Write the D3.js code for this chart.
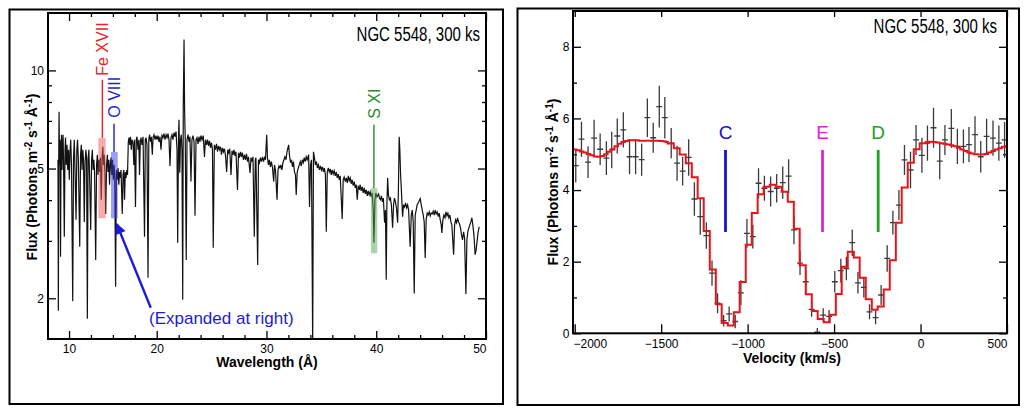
<!DOCTYPE html>
<html><head><meta charset="utf-8">
<script src="https://cdn.jsdelivr.net/npm/d3@7"></script>
<style>body{margin:0;background:#fff}</style>
</head><body><svg id="c" width="1029" height="409"></svg>
<script>
// ================= DATA =================
// Left panel: spectrum [wavelength (Å, axis units), flux]
const spectrum = [
[8.74,5.32],[8.78,1.83],[8.83,5.71],[8.86,7.47],[8.92,5.13],[8.97,6.13],[9.03,2.68],[9.09,5.71],[9.14,6.35],[9.20,4.95],
[9.26,5.91],[9.32,6.35],[9.37,5.32],[9.46,3.09],[9.54,5.71],[9.60,6.22],[9.68,5.13],[9.77,5.91],[9.85,4.95],[9.94,5.71],
[10.03,4.62],[10.11,5.63],[10.19,6.13],[10.28,5.13],[10.42,1.96],[10.51,5.40],[10.60,6.13],[10.68,4.95],[10.80,3.48],[10.89,5.71],
[10.97,6.13],[11.06,5.32],[11.22,2.88],[11.31,5.51],[11.40,5.91],[11.48,4.95],[11.57,5.71],[11.65,5.32],[11.74,3.43],[11.82,5.13],
[11.92,5.71],[12.00,5.40],[12.09,1.73],[12.17,5.32],[12.26,5.71],[12.34,4.78],[12.47,3.24],[12.57,5.32],[12.66,5.71],[12.74,4.95],
[12.83,5.32],[12.91,4.88],[13.04,2.62],[13.14,5.13],[13.23,5.51],[13.31,4.78],[13.40,5.32],[13.48,4.88],[13.57,5.40],[13.68,4.01],
[13.76,5.32],[13.85,5.83],[13.93,5.13],[14.02,5.51],[14.10,4.78],[14.18,3.63],[14.28,5.13],[14.37,5.51],[14.45,4.88],[14.54,5.32],
[14.62,4.46],[14.71,5.13],[14.79,5.40],[14.88,4.78],[14.96,5.32],[15.05,4.62],[15.13,5.13],[15.22,4.68],[15.31,2.17],[15.40,4.95],
[15.50,4.62],[15.59,5.02],[15.68,4.46],[15.76,4.88],[15.85,4.68],[15.93,4.95],[16.07,3.63],[16.16,4.78],[16.25,4.95],[16.33,4.01],
[16.42,4.88],[16.50,4.68],[16.59,4.95],[16.67,4.78],[16.76,6.04],[16.84,6.22],[16.93,5.91],[17.01,6.26],[17.10,5.71],[17.18,6.13],
[17.30,6.00],[17.39,5.13],[17.47,6.13],[17.58,3.81],[17.67,6.13],[17.75,6.26],[17.87,5.71],[17.96,6.13],[18.04,4.78],[18.13,6.04],
[18.21,6.22],[18.32,5.91],[18.44,6.26],[18.61,3.09],[18.70,6.13],[18.78,6.22],[18.89,5.91],[19.01,2.31],[19.10,6.13],[19.18,6.35],
[19.29,6.04],[19.38,6.26],[19.50,5.51],[19.58,6.22],[19.69,6.35],[19.81,6.13],[19.92,6.31],
[20.03,6.13],[20.12,6.31],[20.21,6.04],[20.30,6.26],[20.39,5.71],[20.48,6.31],[20.57,6.22],[20.66,6.40],[20.76,6.13],[20.85,6.35],
[20.94,6.22],[21.03,6.40],[21.12,6.13],[21.21,5.09],[21.30,6.22],[21.39,6.35],[21.48,6.13],[21.58,6.44],[21.67,6.26],[21.76,6.49],
[21.85,5.71],[21.91,2.96],[21.99,6.35],[22.03,7.06],[22.10,4.85],[22.17,6.13],[22.24,6.35],[22.30,5.71],[22.37,1.98],[22.42,7.73],
[22.49,12.43],[22.54,7.57],[22.60,6.13],[22.69,2.62],[22.76,6.13],[22.85,6.35],[22.94,6.04],[23.03,6.26],[23.12,4.56],[23.21,6.13],
[23.31,6.31],[23.40,6.04],[23.49,3.58],[23.58,6.13],[23.67,6.22],[23.76,5.95],[23.85,6.26],[23.94,6.04],[24.03,6.31],[24.13,6.13],
[24.24,6.31],[24.35,5.43],[24.44,6.13],[24.54,5.91],[24.63,6.13],[24.72,5.87],[24.81,6.08],[24.90,5.79],[24.99,6.00],[25.08,5.71],
[25.15,2.86],[25.25,5.91],[25.35,5.71],[25.45,5.95],[25.54,5.63],[25.63,5.87],[25.72,5.71],[25.81,5.83],[25.90,5.51],[25.99,5.79],
[26.08,5.63],[26.17,5.75],[26.27,5.47],[26.37,4.88],[26.47,5.71],[26.56,5.59],[26.65,5.75],[26.77,4.78],[26.86,5.67],[26.95,5.51],
[27.04,5.71],[27.13,5.47],[27.22,5.63],[27.36,4.30],[27.45,5.59],[27.54,5.40],[27.63,5.63],[27.72,5.43],[27.81,5.59],[27.90,5.32],
[28.00,5.51],[28.09,5.32],[28.18,5.55],[28.27,5.25],[28.36,5.43],[28.50,4.85],[28.59,5.40],[28.68,5.25],[28.77,5.43],[28.89,3.09],
[28.98,5.32],[29.04,5.40],[29.20,2.53],[29.27,5.32],[29.36,5.21],[29.45,5.40],[29.54,5.25],
[29.64,5.43],[29.73,5.25],[29.82,5.40],[29.91,5.32],[30.02,6.35],[30.09,5.40],[30.18,5.13],[30.27,5.32],[30.36,5.06],[30.45,5.25],
[30.55,5.02],[30.66,4.56],[30.73,5.13],[30.82,4.95],[30.96,4.01],[31.05,4.95],[31.14,5.09],[31.23,5.02],[31.32,5.13],[31.41,4.95],
[31.50,5.21],[31.59,5.32],[31.68,5.43],[31.78,5.32],[31.87,5.63],[32.02,5.91],[32.09,5.51],[32.19,5.21],[32.28,5.32],[32.37,5.06],
[32.46,5.25],[32.55,4.88],[32.64,4.78],[32.71,4.15],[32.80,4.88],[32.90,5.02],[32.99,5.13],[33.08,5.25],[33.17,5.09],[33.26,5.32],
[33.35,5.21],[33.44,5.40],[33.53,5.25],[33.62,5.43],[33.71,5.32],[33.84,5.51],[33.92,3.81],[34.01,5.13],[34.10,5.32],[34.21,1.44],
[34.28,5.63],[34.37,5.40],[34.46,5.13],[34.55,5.25],[34.64,5.02],[34.73,5.13],[34.83,4.95],[34.92,5.09],[35.01,4.95],[35.10,5.06],
[35.19,4.88],[35.28,5.02],[35.37,4.78],[35.45,3.20],[35.54,4.88],[35.63,5.02],[35.72,4.88],[35.81,4.99],[35.90,4.78],[35.99,4.95],
[36.08,4.81],[36.17,4.92],[36.27,4.75],[36.36,4.88],[36.45,4.68],[36.54,4.81],[36.63,4.62],[36.72,4.75],[36.90,3.50],[36.99,4.62],
[37.08,4.71],[37.18,4.56],[37.27,4.68],[37.36,4.52],[37.45,4.75],[37.54,4.59],[37.63,4.68],[37.72,4.49],[37.81,4.62],[37.90,4.43],
[38.00,4.56],[38.09,4.36],[38.18,4.46],[38.27,4.01],[38.36,4.43],[38.45,4.30],[38.54,4.46],[38.63,4.27],[38.72,4.39],[38.81,4.21],
[38.91,4.36],[39.00,4.18],[39.09,4.30],[39.18,4.12],[39.27,4.27],[39.36,4.15],[39.45,4.24],[39.54,4.09],[39.63,4.21],[39.73,3.73],
[39.79,2.96],[39.88,4.01],[39.97,4.21],
[40.06,4.09],[40.22,4.18],[40.29,4.06],[40.38,4.01],[40.47,4.12],[40.56,3.95],[40.65,4.06],[40.76,3.41],[40.84,3.73],[40.91,2.28],
[40.97,3.87],[41.04,4.68],[41.11,4.15],[41.20,4.01],[41.29,4.06],[41.38,3.87],[41.49,3.29],[41.58,3.87],[41.66,4.06],[41.75,3.95],
[41.84,3.79],[41.95,3.41],[42.02,4.30],[42.09,6.26],[42.15,5.71],[42.22,4.78],[42.29,4.30],[42.40,3.56],[42.49,3.87],[42.58,3.81],
[42.67,3.92],[42.77,3.79],[42.86,3.87],[42.95,3.73],[43.09,2.88],[43.19,3.60],[43.28,3.73],[43.37,3.43],[43.46,2.07],[43.55,3.60],
[43.64,3.73],[43.73,3.87],[43.82,3.92],[43.91,3.98],[44.01,4.04],[44.10,3.87],[44.19,3.73],[44.28,3.60],[44.37,3.43],[44.46,2.66],
[44.55,3.48],[44.64,3.65],[44.73,3.60],[44.83,3.68],[44.92,3.58],[45.01,3.65],[45.10,3.63],[45.19,3.70],[45.28,3.60],[45.37,3.73],
[45.46,3.63],[45.55,3.68],[45.65,3.56],[45.74,3.65],[45.83,3.48],[45.92,3.36],[45.98,3.17],[46.07,3.48],[46.16,3.60],[46.26,3.53],
[46.35,3.68],[46.44,3.58],[46.53,3.65],[46.62,3.53],[46.71,3.60],[46.80,3.43],[46.89,3.36],[47.05,2.72],[47.14,3.36],[47.23,3.48],
[47.32,3.41],[47.41,3.53],[47.50,3.43],[47.59,3.38],[47.68,3.29],[47.77,3.13],[47.86,3.02],[47.96,3.20],[48.05,3.06],[48.17,2.06],
[48.26,3.02],[48.35,3.20],[48.44,3.29],[48.53,3.36],[48.62,3.43],[48.71,3.53],[48.80,3.36],[48.90,3.13],[49.01,2.72],[49.10,2.81],
[49.20,3.02],[49.29,3.20],[49.38,3.31]
];
// Left panel axis values
const wlBreaks = [7.6, 20, 50];          // axis as drawn: 10–20 segment is compressed
const fluxDomainL = [1.5, 15];
const xMajorL = [10, 20, 30, 40, 50];
const xMinorL = [12.5, 15, 17.5, 22, 24, 26, 28, 32, 34, 36, 38, 42, 44, 46, 48];
const yMajorL = [2, 5, 10];
const yMinorL = [3, 4, 6, 7, 8, 9];
// Left panel line identifications
const ionLabels = ["Fe XVII", "O VIII", "S XI"];
const ionWave = [13.80, 15.13, 39.79];
const bandStart = [13.34, 14.79, 39.52];
const bandEnd = [14.18, 15.55, 40.09];
const bandTop = [6.20, 5.62, 4.35];
const bandBottom = [3.52, 3.52, 2.75];
const markerTop = [9.36, 6.86, 6.81];
const arrowFrom = [19.32, 1.87];
const arrowTo = [15.44, 3.38];
const noteAt = [19.12, 1.67];
const noteText = "(Expanded at right)";
const titleText = "NGC 5548, 300 ks";

// Right panel: binned data with errors
const velocity = [-1994,-1961,-1923,-1888,-1853,-1817,-1786,-1754,-1719,-1683,-1648,-1613,-1580,-1546,-1511,-1479,-1442,-1408,-1376,-1341,
-1308,-1274,-1239,-1206,-1174,-1139,-1107,-1072,-1039,-1004,-970,-937,-903,-867,-832,-797,-763,-732,-697,-664,
-630,-597,-563,-529,-496,-461,-429,-395,-362,-328,-295,-260,-228,-193,-160,-125,-93,-58,-26,8,
40,75,111,141,178,213,248,280,315,348,382,419,453,486];
const obsFlux = [4.68,5.42,4.78,5.45,5.14,4.89,5.12,5.51,5.68,4.93,4.93,4.85,6.02,5.46,6.33,6.02,5.31,4.75,4.53,4.91,
3.75,3.26,2.73,1.68,0.84,0.35,0.54,0.33,1.13,2.79,2.70,4.19,4.05,3.96,4.05,4.21,4.39,2.89,1.96,1.44,
0.67,0.03,0.51,0.47,1.44,1.75,1.81,2.53,1.41,1.28,0.60,0.44,1.07,2.09,3.09,3.58,4.84,4.56,5.40,4.97,
5.31,5.74,4.81,5.40,5.72,5.22,5.22,5.27,5.55,4.93,5.50,5.45,5.31,5.40];
const obsErr = [0.47,0.49,0.44,0.51,0.44,0.47,0.51,0.49,0.49,0.49,0.49,0.45,0.54,0.42,0.58,0.58,0.42,0.49,0.40,0.51,
0.47,0.51,0.37,0.35,0.28,0.16,0.21,0.19,0.35,0.40,0.33,0.42,0.35,0.42,0.40,0.45,0.47,0.40,0.33,0.33,
0.21,0.12,0.19,0.18,0.30,0.33,0.33,0.37,0.30,0.28,0.21,0.19,0.28,0.37,0.33,0.42,0.42,0.51,0.42,0.49,
0.49,0.56,0.51,0.42,0.54,0.49,0.47,0.49,0.51,0.44,0.49,0.49,0.49,0.50];
const binHalfWidth = 17;
// Right panel: model (step function, value holds from each velocity to the next)
const modelVel = [-2010,-1990,-1970,-1950,-1930,-1910,-1890,-1870,-1850,-1830,-1810,-1790,-1770,-1750,-1730,-1710,-1690,-1670,-1650,-1630,
-1610,-1590,-1570,-1550,-1530,-1510,-1490,-1475,
-1462,-1427,-1393,-1358,-1323,-1289,-1254,-1219,-1184,-1150,-1115,-1080,-1046,-1011,-976,-942,-907,-872,-837,-803,
-768,-733,-699,-664,-629,-595,-560,-525,-490,-456,-421,-386,-352,-317,-282,-248,-213,-178,-143,-109,-74,-39,-5,
30,50,70,90,110,130,150,170,190,210,230,250,270,290,310,330,350,370,390,410,430,450,470,490,500];
const modelFlux = [5.13,5.11,5.08,5.05,5.01,4.97,4.94,4.93,4.95,5.00,5.07,5.14,5.22,5.29,5.34,5.37,5.39,5.39,5.39,5.38,
5.38,5.38,5.38,5.38,5.38,5.37,5.36,5.34,
5.30,5.17,4.99,4.75,4.36,3.77,2.86,1.78,0.81,0.29,0.22,0.59,1.43,2.47,3.36,3.88,4.09,4.15,4.09,3.95,
3.67,2.92,1.90,1.09,0.62,0.40,0.31,0.52,1.10,1.86,2.28,2.12,1.55,0.95,0.66,0.75,1.22,2.04,3.09,4.07,4.76,5.14,5.31,
5.34,5.35,5.34,5.33,5.31,5.29,5.27,5.25,5.22,5.18,5.13,5.09,5.05,5.02,5.00,4.99,4.99,5.01,5.05,5.09,5.13,5.17,5.21,5.23,5.24];
const velDomain = [-2010, 500];
const fluxDomainR = [0, 9];
const xMajorR = [-2000, -1500, -1000, -500, 0, 500];
const yMajorR = [0, 2, 4, 6, 8];
const yMinorR = [1, 3, 5, 7];
const compLabels = ["C", "E", "D"];
const compVel = [-1128, -567, -245];
const compTop = 5.12, compBottom = 2.83, compLabelFlux = 5.43;

// ================= STYLE =================
const SANS = "'Liberation Sans', Arial, sans-serif";
const ionColors = ["#e8242a", "#1c1cd8", "#2a8a2a"];
const bandColors = ["#ec5a5a", "#3a3ae6", "#5aa85a"];
const compColors = ["#1414d0", "#e024d4", "#22a022"];
const TICKFONT = 12;

const svg = d3.select("#c");

// ================= LEFT PANEL =================
const L = {l: 48, r: 486, t: 13, b: 339};
svg.append("rect").attr("x", 9.5).attr("y", 9.5).attr("width", 493.5).attr("height", 394.5)
  .attr("fill", "none").attr("stroke", "#000").attr("stroke-width", 2);

const xL = d3.scaleLinear().domain(wlBreaks).range([L.l, L.l + (L.r - L.l) * 0.2482, L.r]);
const yL = d3.scaleLog().domain(fluxDomainL).range([L.b, L.t]);

const defs = svg.append("defs");
defs.append("clipPath").attr("id", "clipL").append("rect")
  .attr("x", L.l).attr("y", L.t).attr("width", L.r - L.l).attr("height", L.b - L.t);
defs.append("clipPath").attr("id", "clipR").append("rect")
  .attr("x", 573).attr("y", 11).attr("width", 434).attr("height", 322.3);

function styleTicks(g, w) {
  g.select(".domain").remove();
  g.selectAll(".tick line").attr("stroke", "#000").attr("stroke-width", w || 1.3);
}

// ticks (inward)
const gL = svg.append("g");
gL.append("g").attr("transform", `translate(0,${L.b})`)
  .call(d3.axisBottom(xL).tickValues(xMajorL).tickSize(-8).tickFormat(d3.format("d")))
  .call(g => { styleTicks(g);
    g.selectAll("text").attr("y", 14).attr("dy", null).attr("font-family", SANS).attr("font-size", TICKFONT).attr("fill", "#000");
    g.selectAll("text").filter(d => d === 50).attr("text-anchor", "end").attr("x", L.r - xL(50));
  });
gL.append("g").attr("transform", `translate(0,${L.b})`)
  .call(d3.axisBottom(xL).tickValues(xMinorL).tickSize(-4).tickFormat(""))
  .call(g => styleTicks(g));
gL.append("g").attr("transform", `translate(0,${L.t})`)
  .call(d3.axisTop(xL).tickValues(xMajorL).tickSize(-8).tickFormat(""))
  .call(g => styleTicks(g));
gL.append("g").attr("transform", `translate(0,${L.t})`)
  .call(d3.axisTop(xL).tickValues(xMinorL).tickSize(-4).tickFormat(""))
  .call(g => styleTicks(g));
gL.append("g").attr("transform", `translate(${L.l},0)`)
  .call(d3.axisLeft(yL).tickValues(yMajorL).tickSize(-8).tickPadding(4).tickFormat(d3.format("d")))
  .call(g => { styleTicks(g);
    g.selectAll("text").attr("font-family", SANS).attr("font-size", TICKFONT).attr("fill", "#000"); });
gL.append("g").attr("transform", `translate(${L.l},0)`)
  .call(d3.axisLeft(yL).tickValues(yMinorL).tickSize(-4).tickFormat(""))
  .call(g => styleTicks(g));
gL.append("g").attr("transform", `translate(${L.r},0)`)
  .call(d3.axisRight(yL).tickValues(yMajorL).tickSize(-8).tickFormat(""))
  .call(g => styleTicks(g));
gL.append("g").attr("transform", `translate(${L.r},0)`)
  .call(d3.axisRight(yL).tickValues(yMinorL).tickSize(-4).tickFormat(""))
  .call(g => styleTicks(g));

// spectrum
svg.append("path").datum(spectrum)
  .attr("clip-path", "url(#clipL)")
  .attr("d", d3.line().x(d => xL(d[0])).y(d => yL(d[1])))
  .attr("fill", "none").attr("stroke", "#111").attr("stroke-width", 1.2).attr("stroke-linejoin", "miter");

// ion bands, markers and labels
ionLabels.forEach((lab, i) => {
  const x = xL(ionWave[i]);
  svg.append("rect")
    .attr("x", xL(bandStart[i])).attr("width", xL(bandEnd[i]) - xL(bandStart[i]))
    .attr("y", yL(bandTop[i])).attr("height", yL(bandBottom[i]) - yL(bandTop[i]))
    .attr("fill", bandColors[i]).attr("fill-opacity", 0.5);
  svg.append("line").attr("x1", x).attr("x2", x)
    .attr("y1", yL(markerTop[i])).attr("y2", yL(bandTop[i]))
    .attr("stroke", ionColors[i]).attr("stroke-width", 1.4);
  svg.append("text")
    .attr("transform", `translate(${x + 6},${yL(markerTop[i]) - (i === 0 ? 4 : 6)}) rotate(-90)`)
    .attr("font-family", SANS).attr("font-size", 16).attr("fill", ionColors[i])
    .text(lab);
});

// arrow + note
defs.append("marker").attr("id", "ah").attr("viewBox", "0 0 10 10").attr("refX", 9).attr("refY", 5)
  .attr("markerWidth", 12).attr("markerHeight", 11).attr("markerUnits", "userSpaceOnUse")
  .attr("orient", "auto").append("path").attr("d", "M0,0 L10,5 L0,10 Z").attr("fill", "#1c1cd8");
svg.append("line")
  .attr("x1", xL(arrowFrom[0])).attr("y1", yL(arrowFrom[1]))
  .attr("x2", xL(arrowTo[0])).attr("y2", yL(arrowTo[1]))
  .attr("stroke", "#1c1cd8").attr("stroke-width", 2.4).attr("marker-end", "url(#ah)");
svg.append("text").attr("x", xL(noteAt[0])).attr("y", yL(noteAt[1]))
  .attr("font-family", SANS).attr("font-size", 17).attr("fill", "#1c1cd8")
  .text(noteText);

// frame
svg.append("rect").attr("x", L.l).attr("y", L.t).attr("width", L.r - L.l).attr("height", L.b - L.t)
  .attr("fill", "none").attr("stroke", "#000").attr("stroke-width", 2);

// titles (condensed look via horizontal scaling)
function panelTitle(xEnd, yBase) {
  svg.append("text").attr("transform", `translate(${xEnd},${yBase}) scale(0.77,1)`)
    .attr("text-anchor", "end").attr("font-family", SANS).attr("font-size", 19.5).attr("fill", "#000")
    .text(titleText);
}
panelTitle(480, 40.5);
svg.append("text").attr("x", 267).attr("y", 367).attr("text-anchor", "middle")
  .attr("font-family", SANS).attr("font-weight", "bold").attr("font-size", 14).attr("fill", "#000")
  .text("Wavelength (Å)");

function yTitle(x, y) {
  const t = svg.append("text").attr("transform", `translate(${x},${y}) rotate(-90)`)
    .attr("text-anchor", "middle").attr("font-family", SANS).attr("font-weight", "bold")
    .attr("font-size", 14).attr("fill", "#000");
  t.append("tspan").text("Flux (Photons m");
  t.append("tspan").attr("dy", -5).attr("font-size", 10).text("-2");
  t.append("tspan").attr("dy", 5).text(" s");
  t.append("tspan").attr("dy", -5).attr("font-size", 10).text("-1");
  t.append("tspan").attr("dy", 5).text(" Å");
  t.append("tspan").attr("dy", -5).attr("font-size", 10).text("-1");
  t.append("tspan").attr("dy", 5).text(")");
}
yTitle(36.5, 177);

// ================= RIGHT PANEL =================
const R = {l: 573, r: 1007, t: 11, b: 333.3};
svg.append("rect").attr("x", 517.5).attr("y", 8.5).attr("width", 501.5).attr("height", 396.5)
  .attr("fill", "none").attr("stroke", "#000").attr("stroke-width", 2);

const xR = d3.scaleLinear().domain(velDomain).range([R.l, R.r]);
const yR = d3.scaleLinear().domain(fluxDomainR).range([R.b, R.t]);

const gR = svg.append("g");
gR.append("g").attr("transform", `translate(0,${R.b})`)
  .call(d3.axisBottom(xR).tickValues(xMajorR).tickSize(-9).tickFormat(d3.format("d")))
  .call(g => { styleTicks(g);
    g.selectAll("text").attr("y", 14.7).attr("dy", null).attr("font-family", SANS).attr("font-size", TICKFONT).attr("fill", "#000");
    g.selectAll("text").filter(d => d === -2000).attr("text-anchor", "start").attr("x", R.l - xR(-2000));
    g.selectAll("text").filter(d => d === 500).attr("text-anchor", "end").attr("x", R.r - xR(500));
  });
gR.append("g").attr("transform", `translate(0,${R.t})`)
  .call(d3.axisTop(xR).tickValues(xMajorR).tickSize(-6).tickFormat(""))
  .call(g => styleTicks(g));
gR.append("g").attr("transform", `translate(${R.l},0)`)
  .call(d3.axisLeft(yR).tickValues(yMajorR).tickSize(-8).tickPadding(3.5).tickFormat(d3.format("d")))
  .call(g => { styleTicks(g);
    g.selectAll("text").attr("font-family", SANS).attr("font-size", TICKFONT).attr("fill", "#000"); });
gR.append("g").attr("transform", `translate(${R.l},0)`)
  .call(d3.axisLeft(yR).tickValues(yMinorR).tickSize(-4).tickFormat(""))
  .call(g => styleTicks(g));
gR.append("g").attr("transform", `translate(${R.r},0)`)
  .call(d3.axisRight(yR).tickValues(yMajorR).tickSize(-8).tickFormat(""))
  .call(g => styleTicks(g));
gR.append("g").attr("transform", `translate(${R.r},0)`)
  .call(d3.axisRight(yR).tickValues(yMinorR).tickSize(-4).tickFormat(""))
  .call(g => styleTicks(g));

// data error crosses
const obs = velocity.map((v, i) => ({v, f: obsFlux[i], e: obsErr[i]}));
const gd = svg.append("g").attr("clip-path", "url(#clipR)").attr("stroke", "#3a3a3a").attr("stroke-width", 1.3);
gd.selectAll("line.ev").data(obs).join("line")
  .attr("x1", d => xR(d.v)).attr("x2", d => xR(d.v))
  .attr("y1", d => yR(d.f - d.e)).attr("y2", d => yR(d.f + d.e));
gd.selectAll("line.eh").data(obs).join("line")
  .attr("x1", d => xR(d.v - binHalfWidth)).attr("x2", d => xR(d.v + binHalfWidth))
  .attr("y1", d => yR(d.f)).attr("y2", d => yR(d.f));

// model
const model = modelVel.map((v, i) => [v, modelFlux[i]]);
svg.append("path").datum(model).attr("clip-path", "url(#clipR)")
  .attr("d", d3.line().curve(d3.curveStepAfter).x(d => xR(d[0])).y(d => yR(d[1])))
  .attr("fill", "none").attr("stroke", "#e8141c").attr("stroke-width", 2);

// components
compLabels.forEach((lab, i) => {
  const x = xR(compVel[i]);
  svg.append("line").attr("x1", x).attr("x2", x).attr("y1", yR(compTop)).attr("y2", yR(compBottom))
    .attr("stroke", compColors[i]).attr("stroke-width", 2.8);
  svg.append("text").attr("x", x).attr("y", yR(compLabelFlux)).attr("text-anchor", "middle")
    .attr("font-family", SANS).attr("font-size", 19).attr("fill", compColors[i]).text(lab);
});

// frame
svg.append("rect").attr("x", R.l).attr("y", R.t).attr("width", R.r - R.l).attr("height", R.b - R.t)
  .attr("fill", "none").attr("stroke", "#000").attr("stroke-width", 2);

panelTitle(997, 33);
svg.append("text").attr("x", 792).attr("y", 363).attr("text-anchor", "middle")
  .attr("font-family", SANS).attr("font-weight", "bold").attr("font-size", 14).attr("fill", "#000")
  .text("Velocity (km/s)");
yTitle(558, 182);
</script>
</body></html>
